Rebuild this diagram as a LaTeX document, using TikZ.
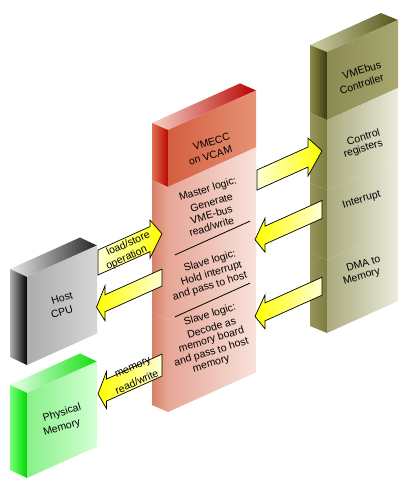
\documentclass[tikz,border=0pt]{standalone}
\usepackage{fontspec}
\setmainfont{Liberation Sans}
\definecolor{Ylight}{RGB}{255,255,214}
\definecolor{Yfull}{RGB}{255,255,0}
% red box
\definecolor{RtopL}{RGB}{244,212,200}
\definecolor{RtopM}{RGB}{222,96,64}
\definecolor{RtopR}{RGB}{185,0,0}
\definecolor{RsideA}{RGB}{226,112,80}
\definecolor{RsideB}{RGB}{184,8,0}
\definecolor{RsideC}{RGB}{216,128,104}
\definecolor{RsideD}{RGB}{232,168,146}
\definecolor{RfrontA}{RGB}{212,94,62}
\definecolor{RfrontB}{RGB}{230,146,118}
\definecolor{RlowA}{RGB}{230,166,150}
\definecolor{RlowB}{RGB}{248,226,218}
% olive box
\definecolor{OtopL}{RGB}{208,208,168}
\definecolor{OtopR}{RGB}{84,84,24}
\definecolor{OsideA}{RGB}{140,140,70}
\definecolor{OsideB}{RGB}{58,58,16}
\definecolor{OsideC}{RGB}{150,150,90}
\definecolor{OsideD}{RGB}{124,124,64}
\definecolor{OfrontA}{RGB}{138,138,82}
\definecolor{OfrontB}{RGB}{168,168,112}
\definecolor{OlowA}{RGB}{170,170,124}
\definecolor{OlowB}{RGB}{236,236,222}
% grey box
\definecolor{GtopL}{RGB}{232,232,232}
\definecolor{GtopR}{RGB}{36,36,36}
\definecolor{GsideA}{RGB}{176,176,176}
\definecolor{GsideB}{RGB}{0,0,0}
\definecolor{GfrontA}{RGB}{172,172,172}
\definecolor{GfrontB}{RGB}{214,214,214}
% green box
\definecolor{NtopL}{RGB}{236,255,236}
\definecolor{NtopR}{RGB}{16,224,16}
\definecolor{NsideA}{RGB}{120,255,120}
\definecolor{NsideB}{RGB}{0,214,0}
\definecolor{NfrontA}{RGB}{136,240,136}
\definecolor{NfrontB}{RGB}{212,255,212}
\begin{document}
\begin{tikzpicture}[x=1pt,y=-1pt,
  txt/.style={font=\fontsize{10.5}{12}\selectfont, inner sep=0pt, rotate=17},
  atxt/.style={font=\fontsize{10.5}{12}\selectfont, inner sep=0pt, rotate=24},
  arr/.style={draw=black, line width=0.7pt, line join=miter},
  sepline/.style={draw=black, line width=0.8pt}]
\useasboundingbox[fill=white] (0,0) rectangle (408,493);

% ---------- Host CPU (grey) ----------
\shade[left color=GtopL, right color=GtopR] (27,277) -- (10,269) -- (80,237.5) -- (97,245.5) -- cycle;
\shade[left color=GsideA, right color=GsideB] (10,269) -- (27,277) -- (27,365) -- (10,357) -- cycle;
\shade[left color=GfrontA, right color=GfrontB] (27,277) -- (97,245.5) -- (97,333.5) -- (27,365) -- cycle;
\node[txt] (cpu1) at (62,298) {Host};
\node[txt] (cpu2) at (62,311.7) {CPU};

% ---------- Physical Memory (green) ----------
\shade[left color=NtopL, right color=NtopR] (27,393) -- (10,385) -- (80,353.5) -- (97,361.5) -- cycle;
\shade[left color=NsideA, right color=NsideB] (10,385) -- (27,393) -- (27,478) -- (10,470) -- cycle;
\shade[left color=NfrontA, right color=NfrontB] (27,393) -- (97,361.5) -- (97,446.5) -- (27,478) -- cycle;
\node[txt] (pm1) at (62,413) {Physical};
\node[txt] (pm2) at (62,428) {Memory};

% ---------- VMECC (red) ----------
\shade[left color=RtopL, middle color=RtopM, right color=RtopR] (168,130) -- (152,123) -- (240,83.4) -- (256,90.4) -- cycle;
\shade[left color=RsideA, right color=RsideB] (152,123) -- (168,130) -- (168,187) -- (152,180) -- cycle;
\shade[left color=RsideC, right color=RsideD] (152,180) -- (168,187) -- (168,258) -- (152,251) -- cycle;
\shade[left color=RsideC, right color=RsideD] (152,251) -- (168,258) -- (168,320) -- (152,313) -- cycle;
\shade[left color=RsideC, right color=RsideD] (152,313) -- (168,320) -- (168,412) -- (152,405) -- cycle;
\shade[left color=RfrontA, right color=RfrontB] (168,130) -- (256,90.4) -- (256,147.4) -- (168,187) -- cycle;
\shade[left color=RlowA, right color=RlowB] (168,187) -- (256,147.4) -- (256,218.4) -- (168,258) -- cycle;
\shade[left color=RlowA, right color=RlowB] (168,258) -- (256,218.4) -- (256,280.4) -- (168,320) -- cycle;
\shade[left color=RlowA, right color=RlowB] (168,320) -- (256,280.4) -- (256,372.4) -- (168,412) -- cycle;
\coordinate (s1a) at (175,254.9); \coordinate (s1b) at (250,221.1);
\coordinate (s2a) at (175,316.9); \coordinate (s2b) at (250,283.1);
\draw[sepline] (s1a) -- (s1b);
\draw[sepline] (s2a) -- (s2b);
\node[txt] (v1) at (211.5,141.7) {VMECC};
\node[txt] (v2) at (210.5,155.5) {on VCAM};
\node[txt] (m1) at (208,189.5) {Master logic:};
\node[txt] (m2) at (211.5,202.5) {Generate};
\node[txt] (m3) at (211.5,214.5) {VME-bus};
\node[txt] (m4) at (211.5,226.5) {read/write};
\node[txt] (h1) at (210,261.5) {Slave logic:};
\node[txt] (h2) at (211.5,274) {Hold interrupt};
\node[txt] (h3) at (210,286.5) {and pass to host};
\node[txt] (d1) at (210,315) {Slave logic:};
\node[txt] (d2) at (211.5,327.5) {Decode as};
\node[txt] (d3) at (211.5,340) {memory board};
\node[txt] (d4) at (211.5,352.5) {and pass to host};
\node[txt] (d5) at (211.5,365) {memory};

% ---------- VMEbus Controller (olive) ----------
\shade[left color=OtopL, right color=OtopR] (327,52) -- (310,45) -- (381,13) -- (398,20) -- cycle;
\shade[left color=OsideA, right color=OsideB] (310,45) -- (327,52) -- (327,120) -- (310,113) -- cycle;
\shade[left color=OsideC, right color=OsideD] (310,113) -- (327,120) -- (327,190) -- (310,183) -- cycle;
\shade[left color=OsideC, right color=OsideD] (310,183) -- (327,190) -- (327,260) -- (310,253) -- cycle;
\shade[left color=OsideC, right color=OsideD] (310,253) -- (327,260) -- (327,333) -- (310,326) -- cycle;
\shade[left color=OfrontA, right color=OfrontB] (327,52) -- (398,20) -- (398,88) -- (327,120) -- cycle;
\shade[left color=OlowA, right color=OlowB] (327,120) -- (398,88) -- (398,158) -- (327,190) -- cycle;
\shade[left color=OlowA, right color=OlowB] (327,190) -- (398,158) -- (398,228) -- (327,260) -- cycle;
\shade[left color=OlowA, right color=OlowB] (327,260) -- (398,228) -- (398,301) -- (327,333) -- cycle;
\node[txt] (c1) at (361.7,70) {VMEbus};
\node[txt] (c2) at (361.7,84) {Controller};
\node[txt] (r1) at (363.3,136.7) {Control};
\node[txt] (r2) at (363.3,149) {registers};
\node[txt] (i1) at (361.7,200) {Interrupt};
\node[txt] (dm1) at (363.3,263.3) {DMA to};
\node[txt] (dm2) at (361.7,276.7) {Memory};

% ---------- arrows (drawn in the slanted plane) ----------
\begin{scope}[yslant=0.45]
  % master logic -> control registers
  \shadedraw[arr, left color=Ylight, right color=Yfull]
    (257,285.65) -- (308,285.65) -- (308,276.65) -- (322,295.65) -- (308,314.65) -- (308,305.65) -- (257,305.65) -- cycle;
  % interrupt -> slave logic
  \shadedraw[arr, left color=Yfull, right color=Ylight]
    (322,345.4) -- (265,345.4) -- (265,337.4) -- (255,354.4) -- (265,371.4) -- (265,363.4) -- (322,363.4) -- cycle;
  % DMA -> slave logic (decode)
  \shadedraw[arr, left color=Yfull, right color=Ylight]
    (322,422.1) -- (265,422.1) -- (265,414.1) -- (255,431.1) -- (265,448.1) -- (265,440.1) -- (322,440.1) -- cycle;
  % load/store operation
  \shadedraw[arr, left color=Ylight, right color=Yfull]
    (98,294.1) -- (150,294.1) -- (150,287.6) -- (162,306.6) -- (150,325.6) -- (150,319.1) -- (98,319.1) -- cycle;
  % interrupt to host
  \shadedraw[arr, left color=Yfull, right color=Ylight]
    (162,342) -- (105,342) -- (105,333) -- (96.5,350.5) -- (105,368) -- (105,359) -- (162,359) -- cycle;
  % memory read/write
  \shadedraw[arr, left color=Yfull, right color=Ylight]
    (162,427) -- (106.5,427) -- (106.5,419.5) -- (98,438) -- (106.5,456.5) -- (106.5,449) -- (162,449) -- cycle;
\end{scope}
\node[atxt] (ls1) at (128,243) {load/store};
\node[atxt] (ls2) at (126.7,258) {operation};
\node[atxt] (mr1) at (133.3,368.3) {memory};
\node[atxt] (mr2) at (136.7,381.7) {read/write};
\end{tikzpicture}
\end{document}
